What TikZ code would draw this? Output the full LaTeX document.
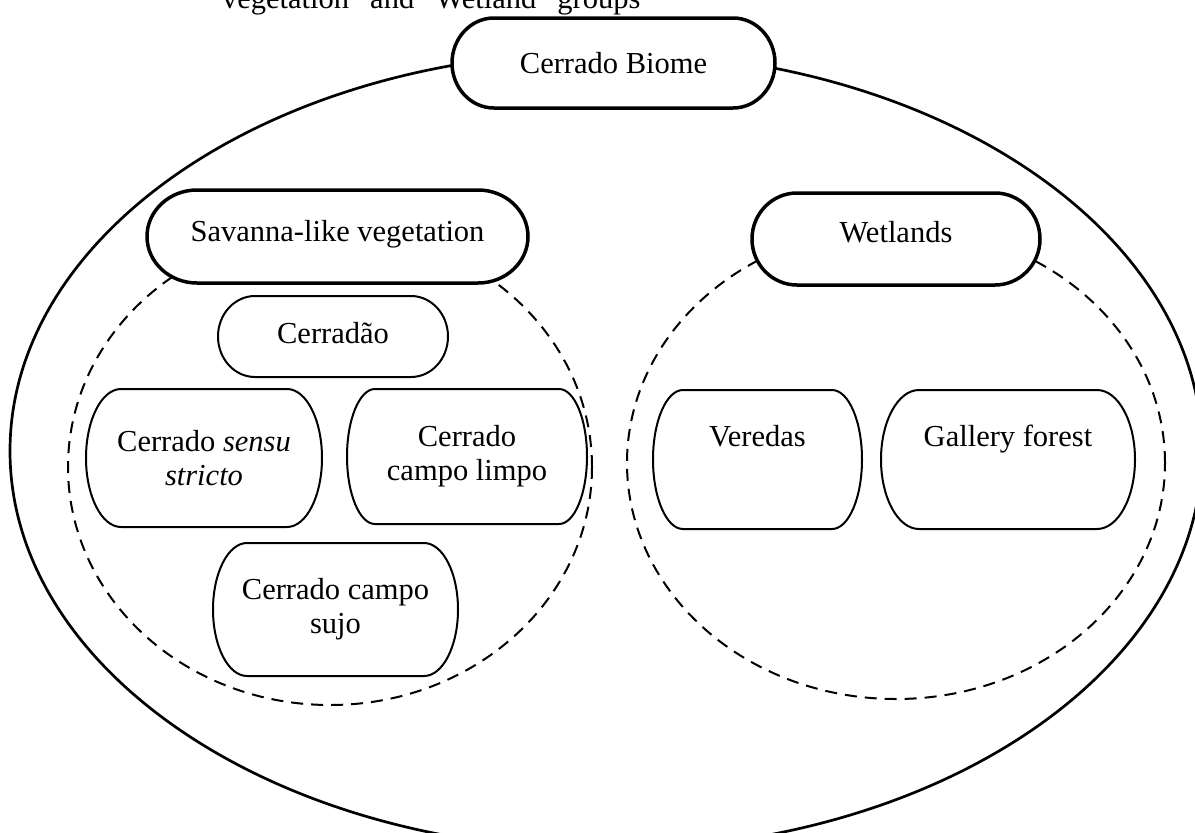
\documentclass[tikz,border=0pt]{standalone}
\usepackage{fontspec}
\setmainfont{Liberation Serif}
\usetikzlibrary{calc}
\pgfdeclarelayer{back}
\pgfdeclarelayer{boxes}
\pgfsetlayers{back,boxes,main}
% rounded box drawn round a named node: name, depth of the rounded ends, line width
\newcommand{\capsule}[3]{%
  \draw[line width=#3, fill=white, line join=round]
    ([xshift=#2]#1.north west) -- ([xshift=-#2]#1.north east)
    .. controls ([xshift=-0.4477*#2]#1.north east) and ($(#1.east)!0.5523!(#1.north east)$) .. (#1.east)
    .. controls ($(#1.east)!0.5523!(#1.south east)$) and ([xshift=-0.4477*#2]#1.south east) .. ([xshift=-#2]#1.south east)
    -- ([xshift=#2]#1.south west)
    .. controls ([xshift=0.4477*#2]#1.south west) and ($(#1.west)!0.5523!(#1.south west)$) .. (#1.west)
    .. controls ($(#1.west)!0.5523!(#1.north west)$) and ([xshift=0.4477*#2]#1.north west) .. cycle;}
\begin{document}
\begin{tikzpicture}[x=1pt, y=-1pt,
    font=\fontsize{30.5}{34}\selectfont,
    every node/.style={inner sep=0pt, outer sep=0pt},
    group/.style={line width=2pt, dash pattern=on 12pt off 8pt},
    kind/.style={align=center}]
  \useasboundingbox (0,0) rectangle (1195,833);
  \node[anchor=base west] (caption) at (222,8) {vegetation” and “Wetland” groups};
  % biome and the two groups
  \node[text height=55pt, text depth=35pt, minimum width=323pt] (biome) at (613.5,63) {Cerrado Biome};
  \node[text height=51pt, text depth=42pt, minimum width=381pt] (savanna) at (337.5,236.5) {Savanna-like vegetation};
  \node[text height=49pt, text depth=43pt, minimum width=288pt] (wetlands) at (896,239) {Wetlands};
  % savanna-like types
  \node[text height=47pt, text depth=34pt, minimum width=230pt] (cerradao) at (333,336.5) {Cerradão};
  \node[kind, minimum width=236pt, minimum height=138pt] (sensu) at (204,458) {Cerrado \textit{sensu}\\\textit{stricto}};
  \node[kind, minimum width=240pt, minimum height=135pt] (limpo) at (467,456.5) {Cerrado\\campo limpo};
  \node[kind, minimum width=245pt, minimum height=133pt] (sujo) at (335.5,609.5) {Cerrado campo\\sujo};
  % wetland types
  \node[text height=56pt, text depth=83pt, minimum width=209pt] (veredas) at (757.5,459.5) {Veredas};
  \node[text height=56pt, text depth=83pt, minimum width=254pt] (gallery) at (1008,459.5) {Gallery forest};
  \begin{pgfonlayer}{back}
    \draw[line width=2.7pt] (606,451) ellipse [x radius=596pt, y radius=399pt];
    \draw[group] (330,467) ellipse [x radius=262pt, y radius=238pt];
    \draw[group] (896,463) ellipse [x radius=269pt, y radius=236pt];
  \end{pgfonlayer}
  \begin{pgfonlayer}{boxes}
    \foreach \nm/\d/\w in {biome/42pt/3.5pt, savanna/50pt/3.5pt, wetlands/45pt/3.5pt,
        cerradao/37pt/2pt, sensu/35pt/2pt, limpo/28pt/2pt, sujo/34pt/2pt,
        veredas/30pt/2pt, gallery/38pt/2pt}
      \capsule{\nm}{\d}{\w};
  \end{pgfonlayer}
\end{tikzpicture}
\end{document}
